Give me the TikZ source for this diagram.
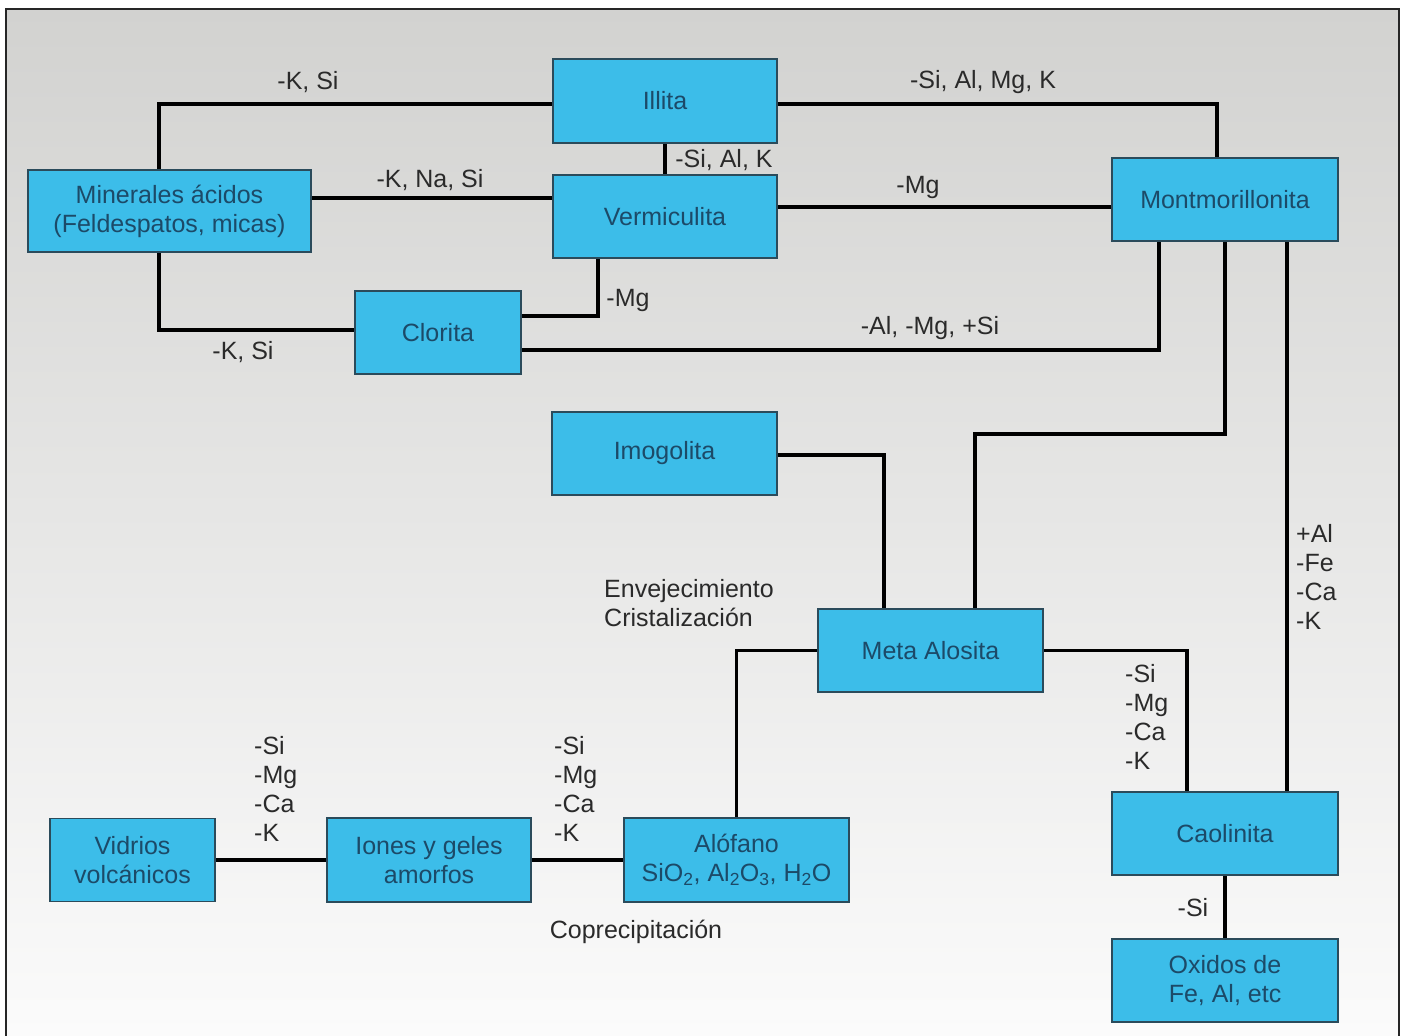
\documentclass[tikz,border=0pt]{standalone}
\usepackage{fontspec}
\setmainfont{Liberation Sans}
\definecolor{boxfill}{HTML}{3CBDE9}
\definecolor{boxline}{HTML}{2B4B5B}
\definecolor{boxtext}{HTML}{1C4A68}
\definecolor{labtext}{HTML}{2A2A2A}
\definecolor{bgtop}{HTML}{D2D2D0}
\definecolor{bgbot}{HTML}{FBFBFB}
\pgfdeclarelayer{bg}
\pgfdeclarelayer{links}
\pgfsetlayers{bg,links,main}
\begin{document}
\begin{tikzpicture}[x=1pt,y=-1pt,
  mbox/.style={draw=boxline, line width=1.6pt, fill=boxfill, text=boxtext,
    inner sep=0pt, align=center, font=\fontsize{25}{29}\selectfont},
  link/.style={line width=3.6pt, black, line cap=butt, line join=miter},
  lab/.style={text=labtext, inner sep=0pt, font=\fontsize{25}{29}\selectfont},
  labl/.style={lab, align=left, anchor=west}]
\useasboundingbox (0,0) rectangle (1404,1035);
\begin{pgfonlayer}{bg}
\fill[white] (0,0) rectangle (1404,1035);
\shade[top color=bgtop, bottom color=bgbot] (6,9) rectangle (1399,1035);
\draw[line width=2.6pt, black!85] (6,1036) -- (6,9) -- (1399,9) -- (1399,1036);
\end{pgfonlayer}

% coordinates for connector routes
\coordinate (x159) at (159,0);
\coordinate (x598) at (598,0);
\coordinate (x884) at (884,0);
\coordinate (x975) at (975,0);
\coordinate (x1159) at (1159,0);
\coordinate (x1187) at (1187,0);
\coordinate (x1217) at (1217,0);
\coordinate (x1287) at (1287,0);
\coordinate (y104) at (0,104);
\coordinate (y198) at (0,198);
\coordinate (y207) at (0,207);
\coordinate (y316) at (0,316);
\coordinate (y330) at (0,330);
\coordinate (y350) at (0,350);
\coordinate (y434) at (0,434);
\coordinate (y455) at (0,455);

% boxes
\node[mbox, minimum width=224pt, minimum height=84pt] (illita) at (665,101) {Illita};
\node[mbox, minimum width=283pt, minimum height=82pt] (mineral) at (169.5,211) {Minerales ácidos\\(Feldespatos, micas)};
\node[mbox, minimum width=224pt, minimum height=83pt] (verm) at (665,216.5) {Vermiculita};
\node[mbox, minimum width=226pt, minimum height=83pt] (mont) at (1225,199.5) {Montmorillonita};
\node[mbox, minimum width=166pt, minimum height=83pt] (clorita) at (438,332.5) {Clorita};
\node[mbox, minimum width=225pt, minimum height=83pt] (imog) at (664.5,453.5) {Imogolita};
\node[mbox, minimum width=225pt, minimum height=83pt] (meta) at (930.5,650.5) {Meta Alosita};
\node[mbox, minimum width=165pt, minimum height=83pt] (vidrios) at (132.5,860) {Vidrios\\volcánicos};
\node[mbox, minimum width=204pt, minimum height=84pt] (iones) at (429,860) {Iones y geles\\amorfos};
\node[mbox, minimum width=225pt, minimum height=84pt] (alof) at (736.5,860) {Alófano\\SiO\textsubscript{2}, Al\textsubscript{2}O\textsubscript{3}, H\textsubscript{2}O};
\node[mbox, minimum width=226pt, minimum height=83pt] (caol) at (1225,833.5) {Caolinita};
\node[mbox, minimum width=226pt, minimum height=83pt] (oxid) at (1225,980.5) {Oxidos de\\Fe, Al, etc};

% connectors (behind boxes)
\begin{pgfonlayer}{links}
\draw[link] (mineral.north -| x159) |- (illita.west |- y104);
\draw[link] (mineral.east |- y198) -- (verm.west |- y198);
\draw[link] (mineral.south -| x159) |- (clorita.west |- y330);
\draw[link] (illita.south) -- (verm.north);
\draw[link] (illita.east |- y104) -| (mont.north -| x1217);
\draw[link] (verm.east |- y207) -- (mont.west |- y207);
\draw[link] (verm.south -| x598) |- (clorita.east |- y316);
\draw[link] (clorita.east |- y350) -| (mont.south -| x1159);
\draw[link] (mont.south) |- (y434 -| x975) -- (meta.north -| x975);
\draw[link] (mont.south -| x1287) -- (caol.north -| x1287);
\draw[link] (imog.east |- y455) -| (meta.north -| x884);
\draw[link] (meta.east) -| (caol.north -| x1187);
\draw[link] (meta.west) -| (alof.north);
\draw[link] (vidrios.east) -- (iones.west);
\draw[link] (iones.east) -- (alof.west);
\draw[link] (caol.south) -- (oxid.north);
\end{pgfonlayer}

% labels
\node[lab] (l1) at (308,82) {-K, Si};
\node[lab] (l2) at (430,180) {-K, Na, Si};
\node[lab] (l3) at (243,352) {-K, Si};
\node[lab] (l4) at (724,160) {-Si, Al, K};
\node[lab] (l5) at (983,82) {-Si, Al, Mg, K};
\node[lab] (l6) at (918,187) {-Mg};
\node[lab] (l7) at (628,300) {-Mg};
\node[lab] (l8) at (930,328) {-Al, -Mg, +Si};
\node[labl] (l9) at (1296,577) {+Al\\-Fe\\-Ca\\-K};
\node[labl] (l10) at (1125,717) {-Si\\-Mg\\-Ca\\-K};
\node[labl] (l11) at (254,789) {-Si\\-Mg\\-Ca\\-K};
\node[labl] (l12) at (554,789) {-Si\\-Mg\\-Ca\\-K};
\node[lab] (l13) at (1193,908) {-Si};
\node[labl] (l14) at (604,603) {Envejecimiento\\Cristalización};
\node[lab] (l15) at (636,932) {Coprecipitación};
\end{tikzpicture}
\end{document}
